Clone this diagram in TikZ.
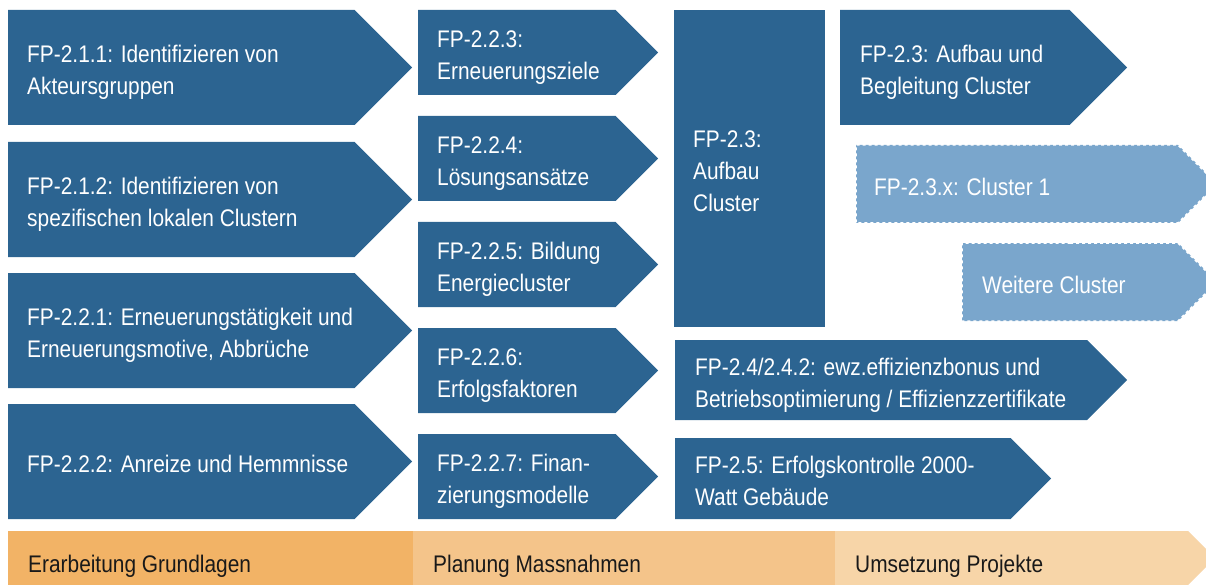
\documentclass[tikz,border=0pt]{standalone}
\usepackage{fontspec}
\setmainfont[FakeStretch=0.87]{Liberation Sans}
\usetikzlibrary{shapes.symbols}
\definecolor{fpblue}{RGB}{44,100,145}
\definecolor{fplight}{RGB}{122,166,204}
\definecolor{phaseA}{RGB}{242,179,102}
\definecolor{phaseB}{RGB}{244,196,138}
\definecolor{phaseC}{RGB}{247,213,168}

\begin{document}
\begin{tikzpicture}[x=1pt, y=-1pt,
    task/.style={signal, signal to=east, signal pointer angle=90,
        fill=fpblue, inner sep=0pt, outer sep=0pt, anchor=west},
    cluster/.style={task, fill=fplight, draw=white, line width=1.5pt,
        dash pattern=on 3pt off 3pt},
    block/.style={rectangle, fill=fpblue, inner sep=0pt, anchor=north west},
    phase/.style={rectangle, inner sep=0pt, outer sep=0pt, anchor=west,
        minimum height=54pt},
    txt/.style={anchor=west, align=left, inner sep=0pt, text=white,
        text depth=0pt, yshift=-2.5pt, font=\fontsize{24}{32}\selectfont},
    ptxt/.style={txt, text=black!90, yshift=-3.5pt}
]
    \clip (0,0) rectangle (1206,585);
    % Erarbeitung Grundlagen
    \node[task, minimum width=404pt, minimum height=115pt] (g1) at (8,67.5) {};
    \node[task, minimum width=404pt, minimum height=115pt] (g2) at (8,199.5) {};
    \node[task, minimum width=404pt, minimum height=115pt] (g3) at (8,330.5) {};
    \node[task, minimum width=404pt, minimum height=115pt] (g4) at (8,461.5) {};
    \node[txt] (g1t) at ([xshift=19pt]g1.west) {FP-2.1.1: Identifizieren von\\Akteursgruppen};
    \node[txt] (g2t) at ([xshift=19pt]g2.west) {FP-2.1.2: Identifizieren von\\spezifischen lokalen Clustern};
    \node[txt] (g3t) at ([xshift=19pt]g3.west) {FP-2.2.1: Erneuerungstätigkeit und\\Erneuerungsmotive, Abbrüche};
    \node[txt] (g4t) at ([xshift=19pt]g4.west) {FP-2.2.2: Anreize und Hemmnisse};

    % Planung Massnahmen
    \node[task, minimum width=240pt, minimum height=85pt] (m1) at (418,52.5) {};
    \node[task, minimum width=240pt, minimum height=85pt] (m2) at (418,158.5) {};
    \node[task, minimum width=240pt, minimum height=85pt] (m3) at (418,264.5) {};
    \node[task, minimum width=240pt, minimum height=85pt] (m4) at (418,370.5) {};
    \node[task, minimum width=240pt, minimum height=85pt] (m5) at (418,476.5) {};
    \node[txt] (m1t) at ([xshift=19pt]m1.west) {FP-2.2.3:\\Erneuerungsziele};
    \node[txt] (m2t) at ([xshift=19pt]m2.west) {FP-2.2.4:\\Lösungsansätze};
    \node[txt] (m3t) at ([xshift=19pt]m3.west) {FP-2.2.5: Bildung\\Energiecluster};
    \node[txt] (m4t) at ([xshift=19pt]m4.west) {FP-2.2.6:\\Erfolgsfaktoren};
    \node[txt] (m5t) at ([xshift=19pt]m5.west) {FP-2.2.7: Finan-\\zierungsmodelle};

    % Umsetzung Projekte
    \node[block, minimum width=151pt, minimum height=317pt] (aufbau) at (674,10) {};
    \node[txt] (aufbaut) at ([xshift=19pt]aufbau.west) {FP-2.3:\\Aufbau\\Cluster};
    \node[task, minimum width=287pt, minimum height=115pt] (begleitung) at (840,67.5) {};
    \node[txt] (begleitungt) at ([xshift=20pt]begleitung.west) {FP-2.3: Aufbau und\\Begleitung Cluster};
    \node[cluster, minimum width=361pt, minimum height=78pt] (cluster1) at (856,184) {};
    \node[txt] (cluster1t) at ([xshift=18pt]cluster1.west) {FP-2.3.x: Cluster 1};
    \node[cluster, minimum width=255pt, minimum height=78pt] (weitere) at (962,282) {};
    \node[txt] (weiteret) at ([xshift=20pt]weitere.west) {Weitere Cluster};
    \node[task, minimum width=452pt, minimum height=80pt] (bonus) at (675,380) {};
    \node[txt] (bonust) at ([xshift=20pt]bonus.west) {FP-2.4/2.4.2: ewz.effizienzbonus und\\Betriebsoptimierung / Effizienzzertifikate};
    \node[task, minimum width=376pt, minimum height=81pt] (kontrolle) at (675,478.5) {};
    \node[txt] (kontrollet) at ([xshift=20pt]kontrolle.west) {FP-2.5: Erfolgskontrolle 2000-\\Watt Gebäude};

    % Phasen
    \node[phase, fill=phaseA, minimum width=405pt] (phase1) at (8,558) {};
    \node[phase, fill=phaseB, minimum width=422pt] (phase2) at (413,558) {};
    \node[task, fill=phaseC, minimum width=380pt, minimum height=54pt] (phase3) at (835,558) {};
    \node[ptxt] (phase1t) at ([xshift=20pt]phase1.west) {Erarbeitung Grundlagen};
    \node[ptxt] (phase2t) at ([xshift=20pt]phase2.west) {Planung Massnahmen};
    \node[ptxt] (phase3t) at ([xshift=20pt]phase3.west) {Umsetzung Projekte};
\end{tikzpicture}
\end{document}
